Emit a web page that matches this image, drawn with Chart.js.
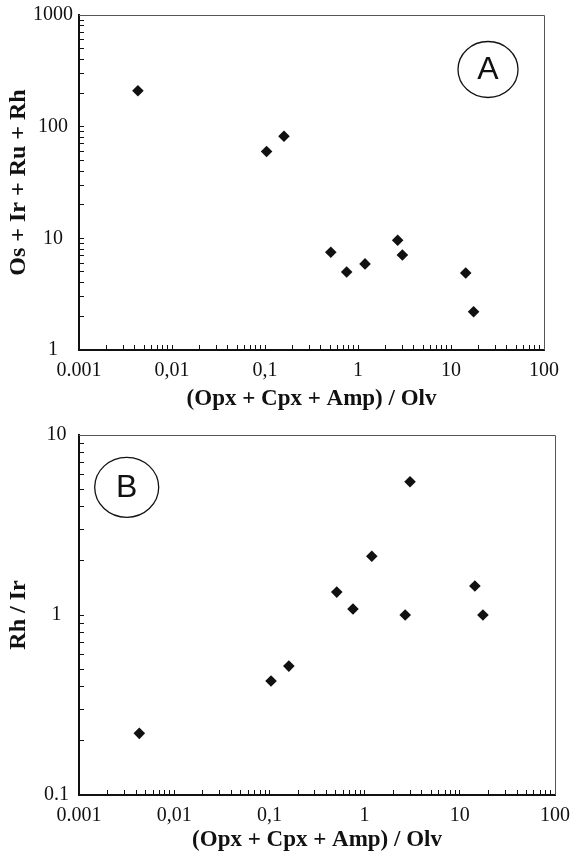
<!DOCTYPE html>
<html>
<head>
<meta charset="utf-8">
<script src="https://cdn.jsdelivr.net/npm/chart.js@4.4.0/dist/chart.umd.min.js"></script>
<style>
  body { margin: 0; background: #fff; }
  .box { position: absolute; left: 0; width: 572px; }
  #boxA { top: 0; height: 420px; }
  #boxB { top: 420px; height: 441px; }
</style>
</head>
<body>
<div class="box" id="boxA"><canvas id="chartA"></canvas></div>
<div class="box" id="boxB"><canvas id="chartB"></canvas></div>
<script>
// values (same samples in both panels)
const ratio = [0.0043, 0.104, 0.16, 0.51, 0.755, 1.19, 2.67, 3.0, 14.4, 17.5];
const sumPGE = [210, 60, 82, 7.5, 5.0, 5.9, 9.6, 7.1, 4.9, 2.2];
const rhIr = [0.22, 0.43, 0.52, 1.34, 1.08, 2.12, 1.0, 5.5, 1.45, 1.0];

// tick labels
const xDecades = [0.001, 0.01, 0.1, 1, 10, 100];
const xLabels = ["0.001", "0,01", "0,1", "1", "10", "100"];
const yDecadesA = [1, 10, 100, 1000];
const yLabelsA = ["1", "10", "100", "1000"];
const yDecadesB = [0.1, 1, 10];
const yLabelsB = ["0.1", "1", "10"];

const xTitle = "(Opx + Cpx + Amp) / Olv";

// decade ticks plus the 2..9 minor ticks between them
const withMinor = (decades) => {
  const out = [];
  decades.forEach((d, i) => {
    out.push(d);
    if (i < decades.length - 1) {
      for (let m = 2; m <= 9; m++) out.push(+(d * m).toPrecision(3));
    }
  });
  return out;
};

const labelFor = (decades, labels) => (value) => {
  const i = decades.findIndex((d) => Math.abs(value - d) / d < 1e-6);
  return i < 0 ? "" : labels[i];
};

const serif = "'Liberation Serif', 'Times New Roman', serif";

const logAxis = (decades, labels, cfg) => ({
  type: "logarithmic",
  min: decades[0],
  max: decades[decades.length - 1],
  afterBuildTicks: (scale) => {
    scale.ticks = withMinor(decades).map((v) => ({ value: v }));
  },
  afterFit: (s) => {
    // keep the plot box where the layout padding puts it
    s.paddingTop = s.paddingBottom = s.paddingLeft = s.paddingRight = 0;
    cfg.fit(s);
  },
  grid: {
    drawOnChartArea: false,
    drawTicks: true,
    tickLength: -5,
    tickColor: "#111",
    tickWidth: 1,
  },
  border: { display: true, color: "#111", width: 2 },
  ticks: {
    autoSkip: false,
    maxRotation: 0,
    minRotation: 0,
    padding: cfg.pad,
    crossAlign: cfg.cross || "near",
    color: "#111",
    font: { family: serif, size: 20 },
    callback: labelFor(decades, labels),
  },
  title: {
    display: true,
    text: cfg.title,
    color: "#111",
    padding: cfg.titlePad,
    font: { family: serif, size: cfg.titleSize, weight: "bold" },
  },
});

// thin frame on top/right and the circled panel letter
const framePlugin = {
  id: "frame",
  afterDraw(chart, args, opts) {
    const { ctx, chartArea: a, scales } = chart;
    ctx.save();
    ctx.strokeStyle = "#555";
    ctx.lineWidth = 1;
    ctx.beginPath();
    ctx.moveTo(a.left, a.top + 0.5);
    ctx.lineTo(a.right + 0.5, a.top + 0.5);
    ctx.lineTo(a.right + 0.5, a.bottom);
    ctx.stroke();

    const cx = scales.x.getPixelForValue(opts.at[0]);
    const cy = scales.y.getPixelForValue(opts.at[1]);
    ctx.beginPath();
    ctx.ellipse(cx, cy, opts.rx, opts.ry, 0, 0, Math.PI * 2);
    ctx.strokeStyle = "#111";
    ctx.lineWidth = 1.3;
    ctx.stroke();
    ctx.fillStyle = "#111";
    ctx.font = "32px 'Liberation Sans', Arial, sans-serif";
    ctx.textAlign = "center";
    ctx.textBaseline = "middle";
    ctx.fillText(opts.text, cx, cy + 1);
    ctx.restore();
  },
};

const makeChart = (id, yValues, yAxis, xAxis, pad, letter) => {
  const ctx = document.getElementById(id).getContext("2d");
  return new Chart(ctx, {
    type: "scatter",
    data: {
      datasets: [
        {
          data: ratio.map((x, i) => ({ x, y: yValues[i] })),
          pointStyle: "rectRot",
          pointRadius: 5.8,
          pointBackgroundColor: "#111",
          pointBorderColor: "#111",
          pointBorderWidth: 0,
        },
      ],
    },
    options: {
      responsive: true,
      maintainAspectRatio: false,
      animation: false,
      layout: { padding: pad },
      plugins: {
        legend: { display: false },
        tooltip: { enabled: false },
        frame: letter,
      },
      scales: { x: xAxis, y: yAxis },
    },
    plugins: [framePlugin],
  });
};

makeChart(
  "chartA",
  sumPGE,
  logAxis(yDecadesA, yLabelsA, {
    title: "Os + Ir + Ru + Rh",
    titleSize: 24,
    pad: 11,
    cross: "center",
    titlePad: { top: 4, bottom: 0 },
    fit: (s) => { s.width = 79; },
  }),
  logAxis(xDecades, xLabels, {
    title: xTitle,
    titleSize: 23,
    pad: 14,
    titlePad: { top: 0, bottom: 7 },
    fit: (s) => { s.height = 70; },
  }),
  { top: 15, right: 28, left: 0, bottom: 0 },
  { text: "A", at: [25, 325], rx: 30, ry: 28 }
);

makeChart(
  "chartB",
  rhIr,
  logAxis(yDecadesB, yLabelsB, {
    title: "Rh / Ir",
    titleSize: 24,
    pad: 15,
    cross: "center",
    titlePad: { top: 4, bottom: 0 },
    fit: (s) => { s.width = 79; },
  }),
  logAxis(xDecades, xLabels, {
    title: xTitle,
    titleSize: 23,
    pad: 14,
    titlePad: { top: 0, bottom: 7 },
    fit: (s) => { s.height = 66; },
  }),
  { top: 15, right: 17, left: 0, bottom: 0 },
  { text: "B", at: [0.00317, 5.12], rx: 32, ry: 30 }
);
</script>
</body>
</html>
